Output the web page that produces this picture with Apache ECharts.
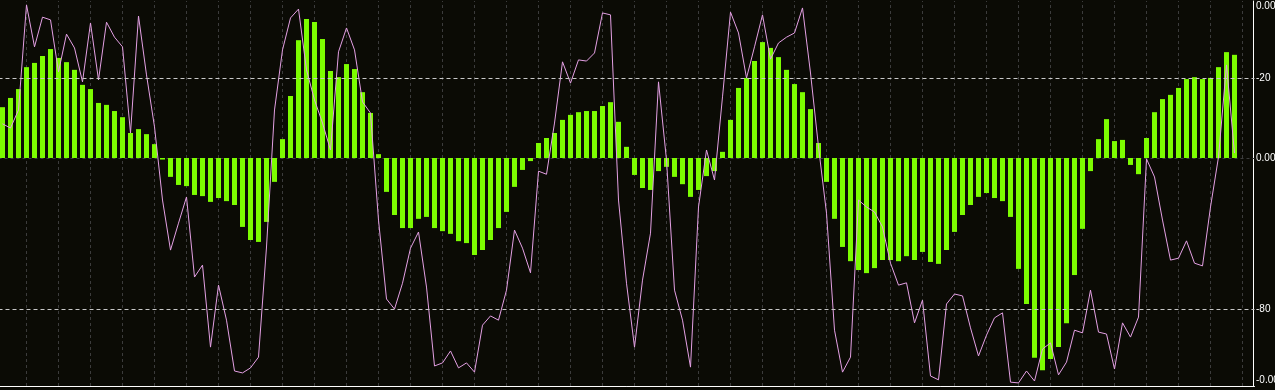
<!DOCTYPE html>
<html>
<head>
<meta charset="utf-8">
<script src="https://cdn.jsdelivr.net/npm/echarts@6/dist/echarts.min.js"></script>
<style>
html,body{margin:0;padding:0;background:#0b0b05;overflow:hidden;}
#chart{width:1275px;height:390px;}
</style>
</head>
<body>
<div id="chart"></div>
<script>
// Histogram values (own scale, zero in the middle band)
const histogram = [
 13.2,15.6,17.9,23.6,24.7,26.5,28.3,26.0,24.9,22.9,
 19.0,17.9,14.3,13.8,12.2,10.6,6.5,7.5,6.2,3.6,
 -0.4,-4.9,-7.0,-7.3,-9.6,-9.9,-11.4,-10.4,-11.2,-12.2,
 -17.9,-21.3,-21.8,-16.6,-6.2,4.9,16.1,30.6,36.1,35.3,
 30.9,22.6,21.0,24.4,23.1,17.1,11.7,1.0,-8.8,-14.8,
 -18.2,-18.2,-15.8,-15.3,-18.2,-19.0,-19.7,-21.6,-22.1,-25.2,
 -23.9,-21.3,-18.2,-14.0,-7.5,-3.1,-0.8,3.9,5.2,6.5,
 9.9,11.2,11.9,12.2,12.2,13.5,14.5,9.4,2.9,-4.4,
 -7.8,-8.3,-3.4,-2.3,-4.9,-6.8,-10.1,-8.3,-4.7,-3.4,
 1.6,9.9,18.2,20.8,25.2,30.1,28.6,26.2,22.9,19.2,
 17.1,12.7,3.9,-6.2,-15.8,-23.1,-26.8,-29.1,-29.9,-28.6,
 -26.5,-26.5,-26.8,-25.5,-26.5,-24.4,-27.0,-27.5,-23.9,-19.2,
 -14.8,-12.2,-10.1,-9.1,-10.4,-11.2,-15.3,-28.8,-37.9,-51.9,
 -55.1,-52.2,-49.1,-42.9,-30.4,-18.4,-3.4,4.9,10.1,4.4,
 4.7,-1.8,-4.2,5.2,11.9,15.3,16.4,18.2,20.5,21.0,
 20.5,20.8,23.6,27.5,26.8
];
// Oscillator line values (0 .. -100)
const oscillator = [
 -31.9,-33.0,-28.3,-1.0,-11.9,-4.2,-4.9,-18.4,-8.6,-12.2,
 -21.0,-5.7,-20.5,-5.5,-9.4,-11.9,-34.3,-3.9,-19.2,-32.7,
 -51.7,-64.7,-57.7,-50.9,-71.7,-68.6,-89.9,-73.8,-82.9,-96.1,
 -96.6,-95.3,-92.5,-63.9,-28.3,-12.7,-4.4,-2.1,-17.9,-25.7,
 -31.7,-38.7,-13.2,-7.0,-12.7,-26.2,-29.1,-56.9,-77.4,-80.0,
 -73.3,-64.2,-60.0,-74.3,-94.8,-94.0,-90.9,-95.3,-94.0,-96.4,
 -84.2,-81.8,-82.9,-75.1,-59.5,-64.2,-70.6,-44.2,-45.0,-31.7,
 -15.8,-21.3,-15.3,-15.6,-13.5,-3.1,-3.6,-51.7,-73.3,-89.9,
 -72.5,-60.3,-21.0,-41.3,-75.1,-82.9,-95.1,-53.5,-38.7,-46.5,
 -24.9,-2.9,-8.3,-20.0,-11.9,-3.6,-15.1,-10.9,-9.4,-8.3,
 -1.8,-18.7,-37.9,-55.1,-85.5,-96.4,-92.5,-51.7,-53.5,-54.8,
 -58.7,-68.1,-73.8,-73.2,-83.6,-77.7,-97.4,-98.4,-78.7,-76.1,
 -76.6,-84.9,-92.2,-86.8,-82.3,-81.0,-99.0,-99.2,-96.1,-98.7,
 -90.4,-88.8,-97.1,-93.8,-85.5,-86.2,-75.1,-86.0,-86.5,-95.6,
 -83.6,-87.3,-82.1,-41.0,-45.7,-56.9,-67.3,-66.8,-62.3,-68.1,
 -68.8,-53.5,-40.5,-16.6,-39.5
];
// Bar slots: 155 bars plus 2 empty slots on the right
const categories = Array.from({length: 157}, (_, i) => String(i));
// Vertical grid every 4th bar slot
const gridSlots = categories.filter((c, i) => i % 4 === 3);
// Right-axis tick labels
const tickValues = [0, -20, -40.78, -80, -100];
const tickLabels = ['0.00', '-20', '0.00', '-80', '-0.00'];
const levels = [-20, -80];

const FONT = 'Liberation Sans, Arial, sans-serif';
const chart = echarts.init(document.getElementById('chart'), null, {renderer: 'canvas'});
chart.setOption({
  backgroundColor: '#0b0b05',
  animation: false,
  grid: {left: -1.5, right: 20.5, top: 1, bottom: 4, containLabel: false, outerBoundsMode: 'none'},
  xAxis: {
    type: 'category',
    data: categories,
    boundaryGap: true,
    axisLine: {show: true, onZero: false, lineStyle: {color: '#ffffff', width: 1}},
    axisTick: {show: false},
    axisLabel: {show: false},
    splitLine: {show: false}
  },
  yAxis: [
    {
      type: 'value',
      position: 'right',
      offset: -1.5,
      min: -100, max: 0,
      axisLine: {show: true, lineStyle: {color: '#ffffff', width: 1}},
      axisTick: {show: false},
      axisLabel: {
        show: true,
        customValues: tickValues,
        margin: 3,
        color: '#ffffff',
        fontFamily: FONT,
        fontSize: 10,
        formatter: function (v) {
          let best = 0;
          for (let i = 1; i < tickValues.length; i++) {
            if (Math.abs(tickValues[i] - v) < Math.abs(tickValues[best] - v)) best = i;
          }
          if (best === 0) return '{t|' + tickLabels[best] + '}';
          if (best === tickValues.length - 1) return '{b|' + tickLabels[best] + '}';
          return tickLabels[best];
        },
        rich: {
          t: {color: '#ffffff', fontSize: 10, fontFamily: FONT, padding: [10, 0, 0, 0]},
          b: {color: '#ffffff', fontSize: 10, fontFamily: FONT, padding: [0, 0, 12, 0]}
        }
      },
      splitLine: {show: false}
    },
    {
      type: 'value',
      min: -59.22, max: 40.78,
      show: false,
      splitLine: {show: false}
    }
  ],
  series: [
    {
      type: 'bar',
      yAxisIndex: 1,
      data: histogram,
      barWidth: 5,
      itemStyle: {color: '#7cfc00'},
      z: 2,
      markLine: {
        silent: true,
        symbol: 'none',
        label: {show: false},
        lineStyle: {color: '#3c3c3c', type: [3, 3], width: 1},
        data: [{yAxis: 0}].concat(gridSlots.map(c => ({xAxis: c}))),
        z: 1
      }
    },
    {
      type: 'line',
      yAxisIndex: 0,
      data: oscillator,
      showSymbol: false,
      symbol: 'none',
      lineStyle: {color: '#e4a0e4', width: 1},
      z: 4,
      markLine: {
        silent: true,
        symbol: 'none',
        label: {show: false},
        lineStyle: {color: '#c8c8c8', type: [4, 3], width: 1},
        data: levels.map(v => ({yAxis: v})),
        z: 5
      }
    }
  ]
});
</script>
</body>
</html>
